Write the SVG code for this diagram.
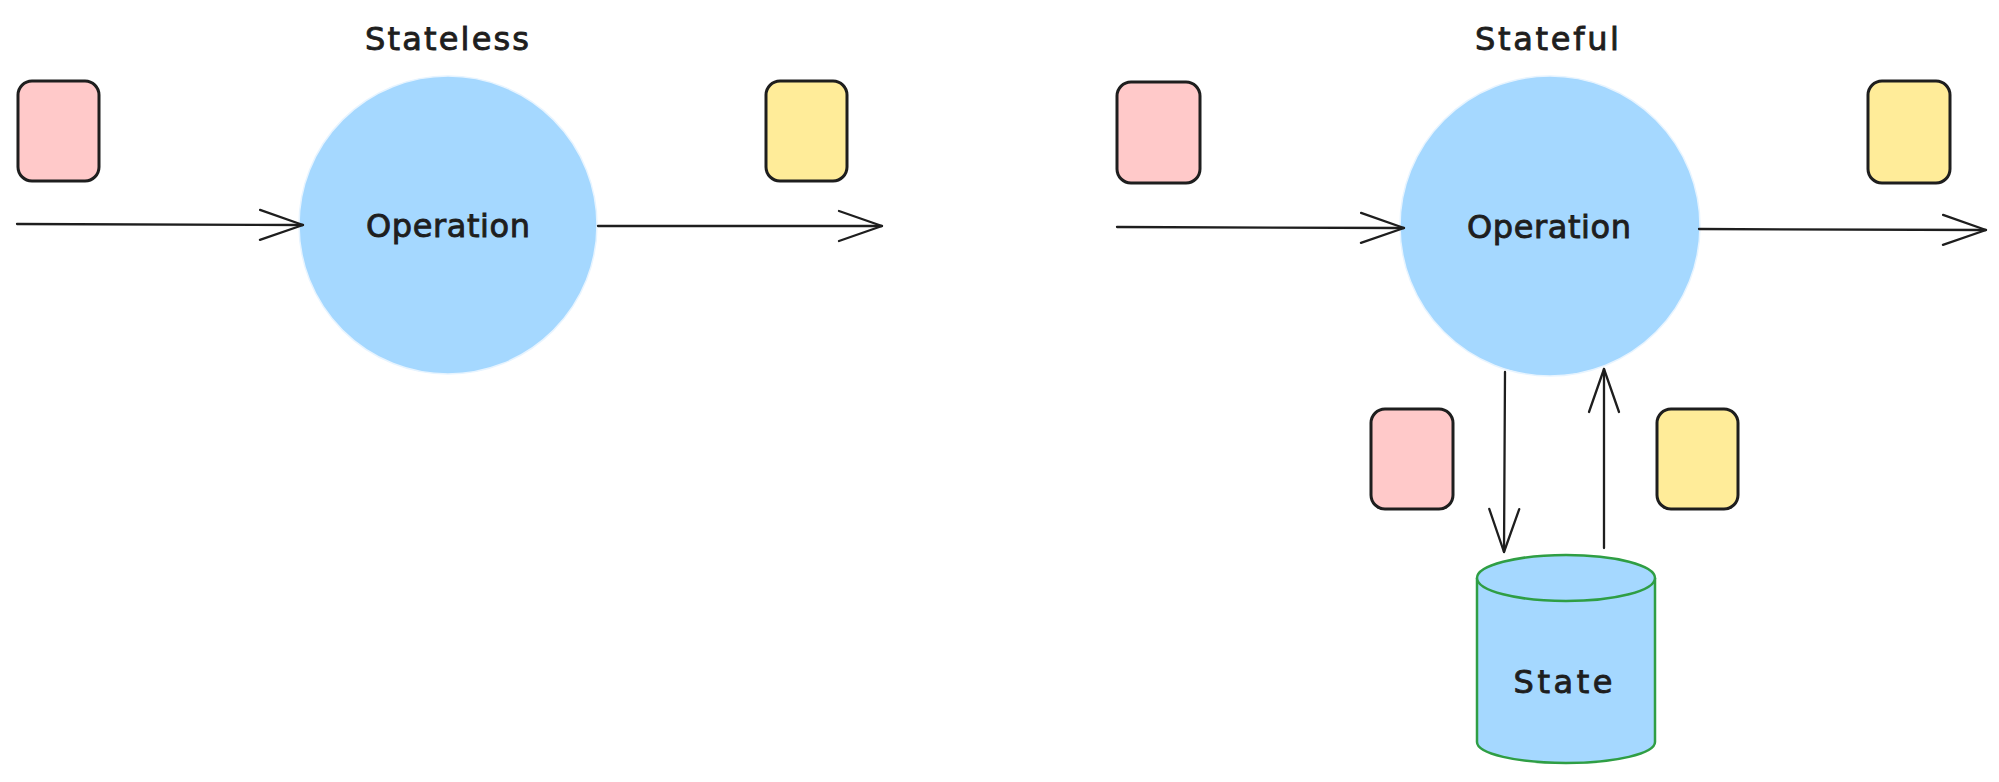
<svg xmlns="http://www.w3.org/2000/svg" width="1999" height="782" viewBox="0 0 1999 782">
<style>
  .lbl { font-family: "DejaVu Sans", "Liberation Sans", sans-serif; font-size: 32px; fill: #1e1e1e; stroke: #1e1e1e; stroke-width: 0.9; text-anchor: middle; }
  .card { stroke: #1e1e1e; stroke-width: 3; }
  .pink { fill: #ffc9c9; }
  .yellow { fill: #ffec99; }
  .op { fill: #a5d8ff; stroke: #e7f4ff; stroke-width: 1.5; }
  .conn { fill: none; stroke: #1e1e1e; stroke-width: 2.3; stroke-linecap: round; }
  .db { fill: #a5d8ff; stroke: #2f9e44; stroke-width: 2.5; }
</style>
<defs>
  <marker id="arrow" markerUnits="userSpaceOnUse" viewBox="-46 -18 50 36" refX="0" refY="0" markerWidth="50" markerHeight="36" orient="auto">
    <path d="M-43,-15 L0,0 L-43,15" fill="none" stroke="#1e1e1e" stroke-width="2.3" stroke-linecap="round" stroke-linejoin="round"/>
  </marker>
</defs>
<rect width="1999" height="782" fill="#ffffff"/>

<g id="title-stateless"><text class="lbl" x="447" y="50" textLength="164" lengthAdjust="spacing">Stateless</text></g>
<g id="title-stateful"><text class="lbl" x="1547" y="50" textLength="144" lengthAdjust="spacing">Stateful</text></g>

<g id="op-stateless">
  <circle class="op" cx="448" cy="225" r="149"/>
  <text class="lbl" x="448" y="237" textLength="164" lengthAdjust="spacing">Operation</text>
</g>
<g id="op-stateful">
  <circle class="op" cx="1550" cy="226" r="150"/>
  <text class="lbl" x="1549" y="238" textLength="164" lengthAdjust="spacing">Operation</text>
</g>

<g id="in-card-1"><rect class="card pink" x="18" y="81" width="81" height="100" rx="14"/></g>
<g id="out-card-1"><rect class="card yellow" x="766" y="81" width="81" height="100" rx="14"/></g>
<g id="in-card-2"><rect class="card pink" x="1117" y="82" width="83" height="101" rx="14"/></g>
<g id="out-card-2"><rect class="card yellow" x="1868" y="81" width="82" height="102" rx="14"/></g>
<g id="read-card"><rect class="card pink" x="1371" y="409" width="82" height="100" rx="14"/></g>
<g id="write-card"><rect class="card yellow" x="1657" y="409" width="81" height="100" rx="14"/></g>

<g id="state">
  <path class="db" d="M1477,578 A89,23 0 0 1 1655,578 L1655,742 A89,21 0 0 1 1477,742 Z"/>
  <path class="db" fill="none" d="M1477,578 A89,23 0 0 0 1655,578"/>
  <text class="lbl" x="1563" y="693" textLength="99" lengthAdjust="spacing">State</text>
</g>

<g id="connectors">
  <path class="conn" d="M17,224 L303,225" marker-end="url(#arrow)"/>
  <path class="conn" d="M598,226 L882,226" marker-end="url(#arrow)"/>
  <path class="conn" d="M1117,227 L1404,228" marker-end="url(#arrow)"/>
  <path class="conn" d="M1699,229 L1986,230" marker-end="url(#arrow)"/>
  <path class="conn" d="M1505,372 L1504,552" marker-end="url(#arrow)"/>
  <path class="conn" d="M1604,548 L1604,369" marker-end="url(#arrow)"/>
</g>
</svg>
